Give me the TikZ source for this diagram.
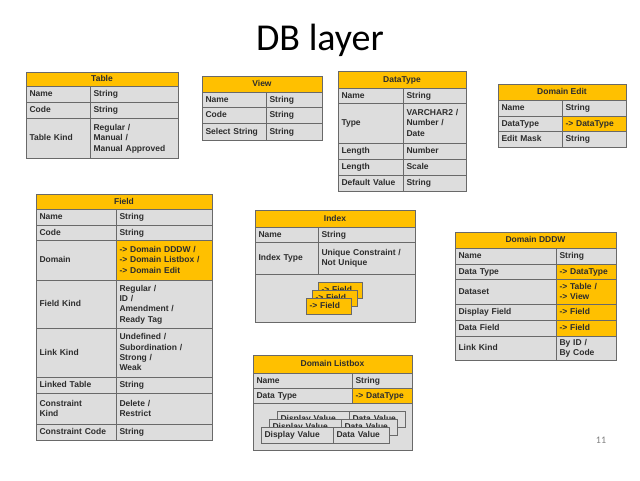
\documentclass[tikz,border=0pt]{standalone}
\usepackage{fontspec}
\setmainfont{Liberation Sans}
\newfontfamily\titlefont{Carlito}
\definecolor{hdrgold}{RGB}{255,192,0}
\definecolor{cellgray}{RGB}{221,221,221}
\definecolor{rulegray}{RGB}{105,105,105}
\definecolor{inkgray}{RGB}{45,45,45}
\tikzset{
  cell/.style={draw=rulegray, line width=0.6pt, fill=cellgray, inner xsep=3.5pt, inner ysep=1pt, outer sep=0pt,
    anchor=north west, align=left, text=inkgray, font=\fontsize{8.5}{10.3}\selectfont\bfseries,
    execute at begin node={\rule{0pt}{7.5pt}}, execute at end node={\rule[-2pt]{0pt}{2pt}}},
  refcell/.style={cell, fill=hdrgold},
  hdr/.style={cell, fill=hdrgold, align=center}
}
\newcommand{\dbhead}[4]{%
  \pgfmathsetmacro\fullw{\keyw+\valw}
  \node[hdr, minimum width=\fullw pt, minimum height=#3pt] (#1) at (\colx,#2) {#4};}
\newcommand{\dbrow}[6]{%
  \pgfmathsetmacro\keyt{\keyw-7}
  \pgfmathsetmacro\valt{\valw-7}
  \node[cell, minimum width=\keyw pt, minimum height=#3pt, text width=\keyt pt] (#1k) at (\colx,#2) {#4};
  \node[#6, minimum width=\valw pt, minimum height=#3pt, text width=\valt pt] (#1v) at (#1k.north east) {#5};}

\begin{document}
\begin{tikzpicture}[x=1pt,y=-1pt]
\useasboundingbox[fill=white] (0,0) rectangle (640,480);
\node[font=\titlefont\fontsize{38}{40}\selectfont] (title) at (320,40) {DB layer};
\node[font=\titlefont\fontsize{10}{12}\selectfont, text=gray] (pagenum) at (601,440) {11};

% Table
\def\colx{26}\def\keyw{64}\def\valw{88}
\dbhead{tab}{72}{14}{Table}
\dbrow{tabname}{86}{16}{Name}{String}{cell}
\dbrow{tabcode}{102}{16}{Code}{String}{cell}
\dbrow{tabkind}{118}{40}{Table Kind}{Regular /\\ Manual /\\ Manual Approved}{cell}

% View
\def\colx{202}\def\keyw{64}\def\valw{56}
\dbhead{view}{76}{16}{View}
\dbrow{viewname}{92}{15}{Name}{String}{cell}
\dbrow{viewcode}{107}{16}{Code}{String}{cell}
\dbrow{viewsel}{123}{17}{Select String}{String}{cell}

% DataType
\def\colx{338}\def\keyw{65}\def\valw{63}
\dbhead{dtype}{71}{17}{DataType}
\dbrow{dtname}{88}{15}{Name}{String}{cell}
\dbrow{dttype}{103}{40}{Type}{VARCHAR2 /\\ Number /\\ Date}{cell}
\dbrow{dtlen}{143}{16}{Length}{Number}{cell}
\dbrow{dtscale}{159}{16}{Length}{Scale}{cell}
\dbrow{dtdef}{175}{16}{Default Value}{String}{cell}

% Domain Edit
\def\colx{498}\def\keyw{64}\def\valw{64}
\dbhead{dedit}{84}{16}{Domain Edit}
\dbrow{dename}{100}{16}{Name}{String}{cell}
\dbrow{dedtype}{116}{15}{DataType}{-> DataType}{refcell}
\dbrow{demask}{131}{16}{Edit Mask}{String}{cell}

% Field
\def\colx{36}\def\keyw{80}\def\valw{96}
\dbhead{field}{194}{15}{Field}
\dbrow{fname}{209}{16}{Name}{String}{cell}
\dbrow{fcode}{225}{15}{Code}{String}{cell}
\dbrow{fdom}{240}{40}{Domain}{-> Domain DDDW /\\ -> Domain Listbox /\\ -> Domain Edit}{refcell}
\dbrow{fkind}{280}{48}{Field Kind}{Regular /\\ ID /\\ Amendment /\\ Ready Tag}{cell}
\dbrow{flink}{328}{49}{Link Kind}{Undefined /\\ Subordination /\\ Strong /\\ Weak}{cell}
\dbrow{ftab}{377}{16}{Linked Table}{String}{cell}
\dbrow{fckind}{393}{31}{Constraint\\ Kind}{Delete /\\ Restrict}{cell}
\dbrow{fccode}{424}{16}{Constraint Code}{String}{cell}

% Index
\def\colx{255}\def\keyw{63}\def\valw{97}
\dbhead{index}{210}{17}{Index}
\dbrow{ixname}{227}{15}{Name}{String}{cell}
\dbrow{ixtype}{242}{32}{Index Type}{Unique Constraint /\\ Not Unique}{cell}
\node[cell, minimum width=160pt, minimum height=48pt] (ixbody) at (255,274) {};
\node[refcell, minimum width=44pt, minimum height=16pt, text width=37pt] (ixfa) at (318,282) {-> Field};
\node[refcell, minimum width=45pt, minimum height=16pt, text width=38pt] (ixfb) at (312,290) {-> Field};
\node[refcell, minimum width=45pt, minimum height=16pt, text width=38pt] (ixfc) at (306,298) {-> Field};

% Domain DDDW
\def\colx{455}\def\keyw{101}\def\valw{60}
\dbhead{dddw}{232}{16}{Domain DDDW}
\dbrow{ddname}{248}{16}{Name}{String}{cell}
\dbrow{dddtype}{264}{15}{Data Type}{-> DataType}{refcell}
\dbrow{ddset}{279}{25}{Dataset}{-> Table /\\ -> View}{refcell}
\dbrow{dddisp}{304}{16}{Display Field}{-> Field}{refcell}
\dbrow{dddata}{320}{16}{Data Field}{-> Field}{refcell}
\dbrow{ddlink}{336}{24}{Link Kind}{By ID /\\ By Code}{cell}

% Domain Listbox
\def\colx{253}\def\keyw{99}\def\valw{60}
\dbhead{dlist}{355}{18}{Domain Listbox}
\dbrow{dlname}{373}{15}{Name}{String}{cell}
\dbrow{dldtype}{388}{15}{Data Type}{-> DataType}{refcell}
\node[cell, minimum width=159pt, minimum height=47pt] (dlbody) at (253,403) {};
\foreach \i/\dx/\dy in {a/16/8, b/8/16, c/0/24} {
  \node[cell, minimum width=72pt, minimum height=16pt, text width=65pt] (dl\i k) at (261+\dx,403+\dy) {Display Value};
  \node[cell, minimum width=56pt, minimum height=16pt, text width=49pt] (dl\i v) at (dl\i k.north east) {Data Value};
}
\end{tikzpicture}
\end{document}
